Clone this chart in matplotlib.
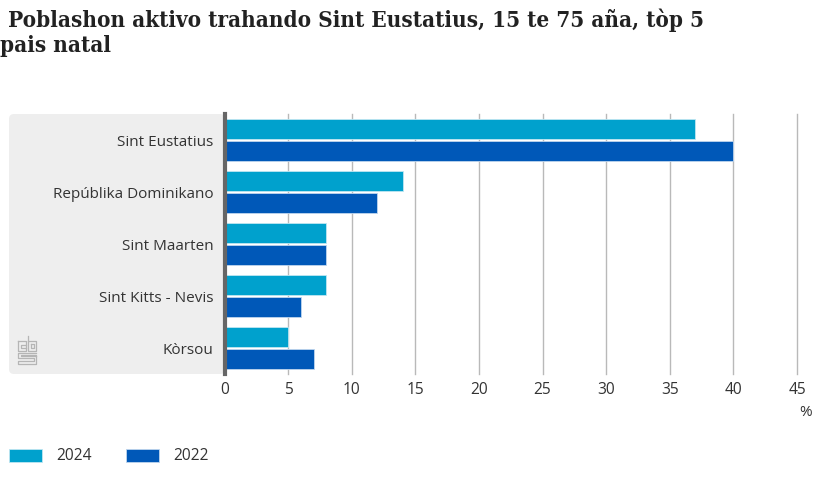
import matplotlib.pyplot as plt
from matplotlib.lines import Line2D
from matplotlib.patches import FancyBboxPatch, Rectangle

categories = ["Sint Eustatius", "Repúblika Dominikano", "Sint Maarten", "Sint Kitts - Nevis", "Kòrsou"]
values_2024 = [37, 14, 8, 8, 5]
values_2022 = [40, 12, 8, 6, 7]
xticks = [0, 5, 10, 15, 20, 25, 30, 35, 40, 45]

W, H = 830, 501
TEXT = "#333333"
plt.rcParams["font.family"] = ["Open Sans", "DejaVu Sans"]

fig = plt.figure(figsize=(W / 100, H / 100), dpi=100)
ax = fig.add_axes([224.6 / W, 1 - 374 / H, (797 - 224.6) / W, 260 / H])

# grey band behind the category labels
band = FancyBboxPatch((9 / W, 1 - 374 / H), 216 / W, 260 / H, transform=fig.transFigure,
                      boxstyle="round,pad=0,rounding_size=0.006", mutation_aspect=W / H,
                      fc="#eeeeee", ec="#eeeeee", lw=0, zorder=0)
fig.add_artist(band)

ypos = list(range(len(categories)))
ax.barh([y - 0.21 for y in ypos], values_2024, height=0.39, color="#00a1cd", edgecolor="#bfe6f2", linewidth=0.6, zorder=3)
ax.barh([y + 0.21 for y in ypos], values_2022, height=0.39, color="#0058b8", edgecolor="#bfd5ed", linewidth=0.6, zorder=3)

ax.set_xlim(0, 45)
ax.set_ylim(4.5, -0.5)
ax.patch.set_alpha(0)
ax.set_xticks(xticks)
ax.set_yticks(ypos)
ax.set_yticklabels(categories)
ax.tick_params(axis="y", length=0, pad=8, labelsize=11, labelcolor=TEXT)
ax.tick_params(axis="x", length=0, pad=6, labelsize=11.2, labelcolor=TEXT)
ax.grid(axis="x", color="#b9b9b9", lw=1, zorder=1)
for line in ax.get_xgridlines():
    line.set_clip_on(False)
for side in ["top", "right", "bottom"]:
    ax.spines[side].set_visible(False)
ax.spines["left"].set_color("#666666")
ax.spines["left"].set_linewidth(3)
ax.spines["left"].set_zorder(4)

fig.text(799 / W, 1 - 413 / H, "%", fontsize=11, color=TEXT, va="center")

fig.text(8 / W, 1 - 20 / H, "Poblashon aktivo trahando Sint Eustatius, 15 te 75 aña, tòp 5",
         family=["DejaVu Serif", "DejaVu Sans"], stretch="condensed", fontsize=16.1, fontweight="bold",
         color="#222222", va="center")
fig.text(0 / W, 1 - 46 / H, "pais natal",
         family=["DejaVu Serif", "DejaVu Sans"], stretch="condensed", fontsize=16.1, fontweight="bold",
         color="#222222", va="center")

# legend
fig.add_artist(Rectangle((9 / W, 1 - 462 / H), 33 / W, 13 / H, transform=fig.transFigure, fc="#00a1cd", ec="#bfe6f2", lw=0.6))
fig.add_artist(Rectangle((126 / W, 1 - 462 / H), 33 / W, 13 / H, transform=fig.transFigure, fc="#0058b8", ec="#bfd5ed", lw=0.6))
fig.text(56 / W, 1 - 456 / H, "2024", fontsize=11.2, color=TEXT, va="center")
fig.text(173 / W, 1 - 456 / H, "2022", fontsize=11.2, color=TEXT, va="center")

# cbs logo
logo = [
    [(18, 341), (26, 341), (26, 351), (18, 351), (18, 341)],
    [(26, 345), (21, 345), (21, 348), (26, 348)],
    [(28, 336), (28, 351), (36, 351), (36, 341), (28, 341)],
    [(31, 344), (34, 344), (34, 348), (31, 348), (31, 344)],
    [(36, 353), (18, 353), (18, 358), (34, 358), (34, 361), (18, 361), (18, 364), (36, 364), (36, 355), (21, 355), (21, 356), (36, 356)],
]
for pts in logo:
    fig.add_artist(Line2D([p[0] / W for p in pts], [1 - p[1] / H for p in pts], color="#b5b5b5", lw=0.9,
                          transform=fig.transFigure))

fig.savefig("out.png", dpi=100)
